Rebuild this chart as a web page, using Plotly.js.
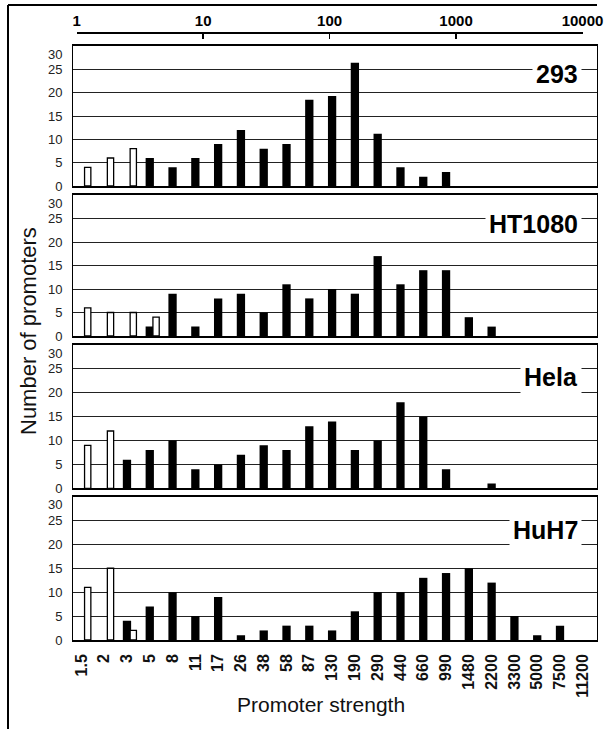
<!DOCTYPE html>
<html><head><meta charset="utf-8">
<script src="https://cdn.plot.ly/plotly-3.0.1.min.js"></script>
<style>html,body{margin:0;padding:0;background:#fff}</style>
</head><body><div id="chart" style="width:605px;height:729px"></div>
<script>
// ---- data ----
const categories = ['1.5','2','3','5','8','11','17','26','38','58','87','130','190','290','440','660','990','1480','2200','3300','5000','7500','11200'];
const panelNames = ['293','HT1080','Hela','HuH7'];
const topTickVals = [1,10,100,1000,10000];
const topTickText = ['1','10','100','1000','10000'];
const yTickVals = [0,5,10,15,20,25,30];
const yTickText = ['0','5','10','15','20','25','<br>30'];

const black293 = [null,null,null,6,4,6,9,12,8,9,18.5,19.3,26.4,11.2,4,2,3,null,null,null,null,null,null];
const white293 = [4,6,8,null,null,null,null,null,null,null,null,null,null,null,null,null,null,null,null,null,null,null,null];

const blackHT1080 = [null,null,null,2,9,2,8,9,5,11,8,10,9,17,11,14,14,4,2,null,null,null,null];
const whiteHT1080 = [6,5,5,4,null,null,null,null,null,null,null,null,null,null,null,null,null,null,null,null,null,null,null];

const blackHela = [null,null,6,8,10,4,5,7,9,8,13,14,8,10,18,15,4,null,1,null,null,null,null];
const whiteHela = [9,12,null,null,null,null,null,null,null,null,null,null,null,null,null,null,null,null,null,null,null,null,null];

const blackHuH7 = [null,null,4,7,10,5,9,1,2,3,3,2,6,10,10,13,14,15,12,5,1,3,null];
const whiteHuH7 = [11,15,2,null,null,null,null,null,null,null,null,null,null,null,null,null,null,null,null,null,null,null,null];

const blackSeries = [black293, blackHT1080, blackHela, blackHuH7];
const whiteSeries = [white293, whiteHT1080, whiteHela, whiteHuH7];
const labelY = [24, 23.9, 23.2, 23.1];

// ---- layout geometry ----
const W = 605, H = 729;
const px = v => v / W;
const py = v => 1 - v / H;
const panelPx = [[46,186],[195,336],[345,488.3],[496.5,640]];
const xDom = [px(73.3), px(596.7)];
const xRange = [-0.355, 22.61];
const FONT = 'Liberation Sans, Arial, sans-serif';

const traces = [];
const layout = {
  width: W, height: H,
  margin: {l:0, r:0, t:0, b:0},
  paper_bgcolor: '#fff', plot_bgcolor: 'rgba(0,0,0,0)',
  showlegend: false,
  barmode: 'overlay',
  font: {family: FONT, color: '#111'},
  annotations: [], shapes: []
};

for (let k = 0; k < 4; k++) {
  const sfx = k === 0 ? '' : String(k + 1);
  const xa = 'x' + sfx, ya = 'y' + sfx;
  traces.push({
    type: 'bar', x: categories, y: blackSeries[k], xaxis: xa, yaxis: ya,
    width: 0.364, offset: -0.182,
    marker: {color: '#000', line: {width: 0}}, hoverinfo: 'x+y'
  });
  traces.push({
    type: 'bar', x: categories, y: whiteSeries[k], xaxis: xa, yaxis: ya,
    width: 0.276, offset: 0.139,
    marker: {color: '#fff', line: {color: '#000', width: 1.3}}, hoverinfo: 'x+y'
  });
  layout['xaxis' + sfx] = {
    type: 'category', categoryorder: 'array', categoryarray: categories,
    domain: xDom, range: xRange, anchor: ya,
    showline: true, mirror: true, linecolor: '#000', linewidth: 1.8,
    showgrid: false, zeroline: false, ticks: '',
    showticklabels: k === 3, tickangle: -90,
    tickfont: {family: FONT, size: 16, weight: 'bold', color: '#111'},
    ticklabelstandoff: 6
  };
  layout['yaxis' + sfx] = {
    domain: [py(panelPx[k][1]), py(panelPx[k][0])],
    range: [0, 30], anchor: xa,
    tickvals: yTickVals, ticktext: yTickText, ticks: '',
    showgrid: true, gridcolor: '#222', gridwidth: 1,
    showline: true, mirror: true, linecolor: '#000', linewidth: 1.3,
    zeroline: false,
    tickfont: {family: FONT, size: 13, color: '#222'},
    ticklabelstandoff: 7
  };
  layout.annotations.push({
    text: panelNames[k], xref: xa, yref: ya, x: 21.95, y: labelY[k],
    xanchor: 'right', yanchor: 'middle', showarrow: false,
    bgcolor: '#fff', borderpad: 3,
    font: {family: FONT, size: 25, weight: 'bold', color: '#000'}
  });
}

// top log axis (promoter strength scale)
traces.push({
  type: 'scatter', mode: 'markers', x: [topTickVals[0], topTickVals[topTickVals.length-1]], y: [0, 0],
  xaxis: 'x5', yaxis: 'y5', marker: {opacity: 0}, hoverinfo: 'skip', showlegend: false
});
layout.xaxis5 = {
  type: 'log', range: [0, 4], domain: [px(76.7), px(582.5)],
  anchor: 'free', position: py(33.3), side: 'top',
  showline: true, linecolor: '#000', linewidth: 2,
  ticks: 'inside', ticklen: 5, tickwidth: 1.5, tickcolor: '#000',
  tickvals: topTickVals, ticktext: topTickText,
  tickfont: {family: FONT, size: 15, weight: 'bold', color: '#000'},
  showgrid: false, zeroline: false
};
layout.yaxis5 = {domain: [py(42), py(34)], range: [0, 1], visible: false, anchor: 'x5'};

// axis titles
layout.annotations.push({
  text: 'Number of promoters', xref: 'paper', yref: 'paper',
  x: px(28), y: py(331), xanchor: 'center', yanchor: 'middle',
  textangle: -90, showarrow: false,
  font: {family: FONT, size: 22, color: '#111'}
});
layout.annotations.push({
  text: 'Promoter strength', xref: 'paper', yref: 'paper',
  x: px(321), y: py(704), xanchor: 'center', yanchor: 'middle',
  showarrow: false, font: {family: FONT, size: 21, color: '#111'}
});

// outer figure border (top and left edges)
layout.shapes.push({type: 'line', xref: 'paper', yref: 'paper', x0: px(8), x1: px(597), y0: py(5), y1: py(5), line: {color: '#000', width: 2}});
layout.shapes.push({type: 'line', xref: 'paper', yref: 'paper', x0: px(8), x1: px(8), y0: py(5), y1: 0, line: {color: '#000', width: 2}});

Plotly.newPlot('chart', traces, layout, {staticPlot: true});
</script></body></html>
